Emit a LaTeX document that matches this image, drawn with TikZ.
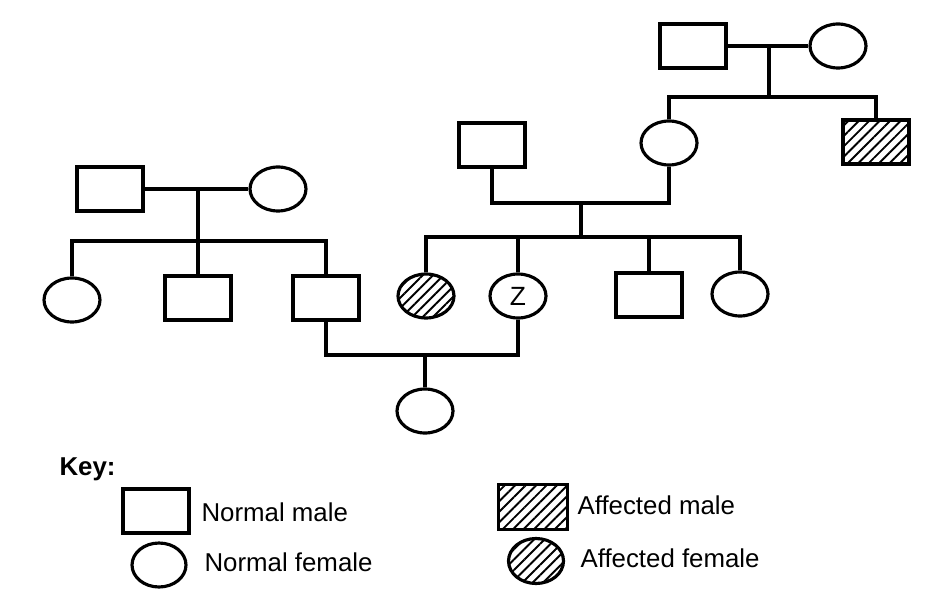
\documentclass[tikz,border=0pt]{standalone}
\usepackage{fontspec}
\setmainfont{Liberation Sans}
\usetikzlibrary{shapes.geometric,patterns.meta}

\begin{document}
\begin{tikzpicture}[x=0.02cm, y=-0.02cm, line width=1.8pt,
male/.style={draw, rectangle, minimum width=1.32cm, minimum height=0.88cm, inner sep=0pt},
female/.style={draw, ellipse, minimum width=1.12cm, minimum height=0.88cm, inner sep=0pt},
hatch/.style={pattern={Lines[angle=45,distance=4.2pt,line width=1.1pt]}},
lbl/.style={anchor=west, inner sep=0pt, font=\fontsize{14.7}{18}\selectfont}]
\useasboundingbox (0,0) rectangle (942,604);
% left family
\node[male] (lf) at (110,189) {};
\node[female] (lm) at (278,189) {};
\node[female] (lc1) at (72,300) {};
\node[male] (lc2) at (198,298) {};
\node[male] (lc3) at (326,298) {};
% top right family
\node[male] (tf) at (693,46) {};
\node[female] (tm) at (838,46) {};
\node[female] (mom) at (669,143) {};
\node[male,hatch] (am) at (876,142) {};
% middle family
\node[male] (df) at (492,145) {};
\node[female,hatch] (s1) at (426,296) {};
\node[female,font=\fontsize{15}{18}\selectfont] (z) at (518,296) {Z};
\node[male] (s3) at (649,295) {};
\node[female] (s4) at (740,294) {};
\node[female] (gc) at (425,411) {};
\coordinate (lj) at (198,189);
\coordinate (ls) at (198,241);
\coordinate (tj) at (769,46);
\coordinate (ts) at (769,97);
\coordinate (mj) at (581,203);
\coordinate (ms) at (581,237);
\coordinate (bj) at (425,355);
\draw (lf) -- (lm);
\draw (lj) -- (ls);
\draw (lc1.north) |- (ls) -| (lc3.north);
\draw (ls) -- (lc2.north);
\draw (tf) -- (tm);
\draw (tj) -- (ts);
\draw (mom.north) |- (ts) -| (am.north);
\draw (df.south) |- (mj) -| (mom.south);
\draw (mj) -- (ms);
\draw (s1.north) |- (ms) -| (s4.north);
\draw (ms -| z.north) -- (z.north);
\draw (ms -| s3.north) -- (s3.north);
\draw (lc3.south) |- (bj) -| (z.south);
\draw (bj) -- (gc.north);
% key
\node[lbl,font=\fontsize{14.7}{18}\selectfont\bfseries] (key) at (58,469) {Key:};
\node[male] (kmale) at (156,511) {};
\node[lbl] (kmaletxt) at (200,512) {Normal male};
\node[female,minimum width=1.08cm] (kfemale) at (159,565) {};
\node[lbl] (kfemaletxt) at (203,562) {Normal female};
\node[male,hatch,minimum width=1.38cm,minimum height=0.9cm] (kaffm) at (533,507) {};
\node[lbl] (kaffmtxt) at (576,505) {Affected male};
\node[female,hatch,minimum width=1.1cm,minimum height=0.9cm] (kafff) at (536,561) {};
\node[lbl] (kaffftxt) at (579,558) {Affected female};
\end{tikzpicture}
\end{document}
